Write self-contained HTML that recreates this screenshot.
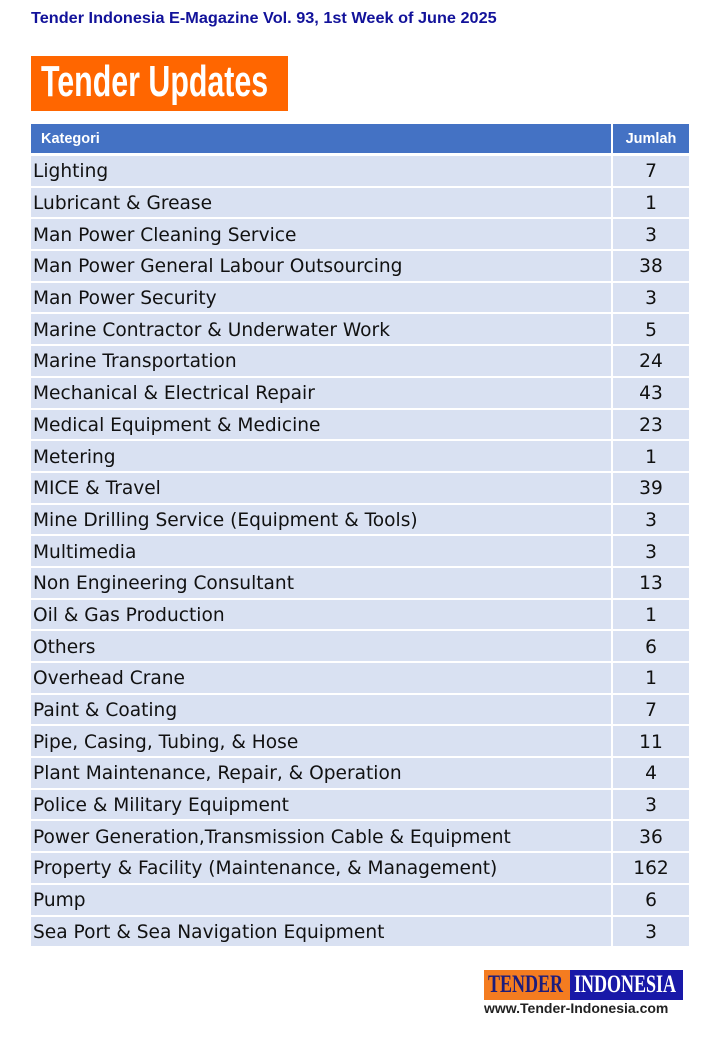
<!DOCTYPE html>
<html><head><meta charset="utf-8"><style>
body{margin:0;width:720px;height:1040px;background:#fff;position:relative;font-family:"DejaVu Sans","Liberation Sans",sans-serif;overflow:hidden}
.hdr{position:absolute;left:31px;top:10px;font:bold 15.8px "Liberation Sans",sans-serif;color:#12129a;transform:scaleX(1.03);transform-origin:left;white-space:nowrap}
.ttl{position:absolute;left:31px;top:56px;width:257px;height:55px;background:#ff6600;color:#fff}
.ttl span{position:absolute;left:10px;top:1px;font:bold 44px "Liberation Sans Narrow","Liberation Sans",sans-serif;transform:scaleX(0.69);transform-origin:left;white-space:nowrap}
table{position:absolute;left:31px;top:124px;width:658px;border-collapse:separate;border-spacing:0}
th{background:#4472c4;color:#fff;font:bold 14.5px "Liberation Sans",sans-serif;height:29px;text-align:left;padding:0 0 0 10px;border-bottom:3px solid #fff}
th.j{text-align:center;padding:0;border-left:2px solid #fff}
td{background:#d9e1f2;height:29.7px;padding:2px 0 0 2px;box-sizing:border-box;font-size:18.6px;color:#111;border-bottom:2px solid #fff;white-space:nowrap}
td.n{text-align:center;padding:2px 0 0 0;width:78px;border-left:2px solid #fff}
tr.r td{height:31.7px}
.logo{position:absolute;left:484px;top:970px;height:30px;font:bold 25px "Liberation Serif",serif;line-height:30px}
.logo .a{position:absolute;left:0;width:86px;height:30px;background:#f47c20;color:#1c1c7c}
.logo .b{position:absolute;left:86px;width:113px;height:30px;background:#1818a8;color:#fff}
.logo span{position:absolute;left:4px;top:0;transform:scaleX(0.72);transform-origin:left;white-space:nowrap}
.url{position:absolute;left:484px;top:1000px;font:bold 14px "Liberation Sans",sans-serif;color:#222}
</style></head><body>
<div class="hdr">Tender Indonesia E-Magazine Vol. 93, 1st Week of June 2025</div>
<div class="ttl"><span>Tender Updates</span></div>
<table>
<tr><th>Kategori</th><th class="j">Jumlah</th></tr>
<tr class="r"><td>Lighting</td><td class="n">7</td></tr>
<tr class="r"><td>Lubricant &amp; Grease</td><td class="n">1</td></tr>
<tr class="r"><td>Man Power Cleaning Service</td><td class="n">3</td></tr>
<tr class="r"><td>Man Power General Labour Outsourcing</td><td class="n">38</td></tr>
<tr class="r"><td>Man Power Security</td><td class="n">3</td></tr>
<tr class="r"><td>Marine Contractor &amp; Underwater Work</td><td class="n">5</td></tr>
<tr class="r"><td>Marine Transportation</td><td class="n">24</td></tr>
<tr class="r"><td>Mechanical &amp; Electrical Repair</td><td class="n">43</td></tr>
<tr class="r"><td>Medical Equipment &amp; Medicine</td><td class="n">23</td></tr>
<tr class="r"><td>Metering</td><td class="n">1</td></tr>
<tr class="r"><td>MICE &amp; Travel</td><td class="n">39</td></tr>
<tr class="r"><td>Mine Drilling Service (Equipment &amp; Tools)</td><td class="n">3</td></tr>
<tr class="r"><td>Multimedia</td><td class="n">3</td></tr>
<tr class="r"><td>Non Engineering Consultant</td><td class="n">13</td></tr>
<tr class="r"><td>Oil &amp; Gas Production</td><td class="n">1</td></tr>
<tr class="r"><td>Others</td><td class="n">6</td></tr>
<tr class="r"><td>Overhead Crane</td><td class="n">1</td></tr>
<tr class="r"><td>Paint &amp; Coating</td><td class="n">7</td></tr>
<tr class="r"><td>Pipe, Casing, Tubing, &amp; Hose</td><td class="n">11</td></tr>
<tr class="r"><td>Plant Maintenance, Repair, &amp; Operation</td><td class="n">4</td></tr>
<tr class="r"><td>Police &amp; Military Equipment</td><td class="n">3</td></tr>
<tr class="r"><td>Power Generation,Transmission Cable &amp; Equipment</td><td class="n">36</td></tr>
<tr class="r"><td>Property &amp; Facility (Maintenance, &amp; Management)</td><td class="n">162</td></tr>
<tr class="r"><td>Pump</td><td class="n">6</td></tr>
<tr class="r"><td>Sea Port &amp; Sea Navigation Equipment</td><td class="n">3</td></tr>
</table>
<div class="logo"><div class="a"><span>TENDER</span></div><div class="b"><span>INDONESIA</span></div></div>
<div class="url">www.Tender-Indonesia.com</div>
</body></html>
